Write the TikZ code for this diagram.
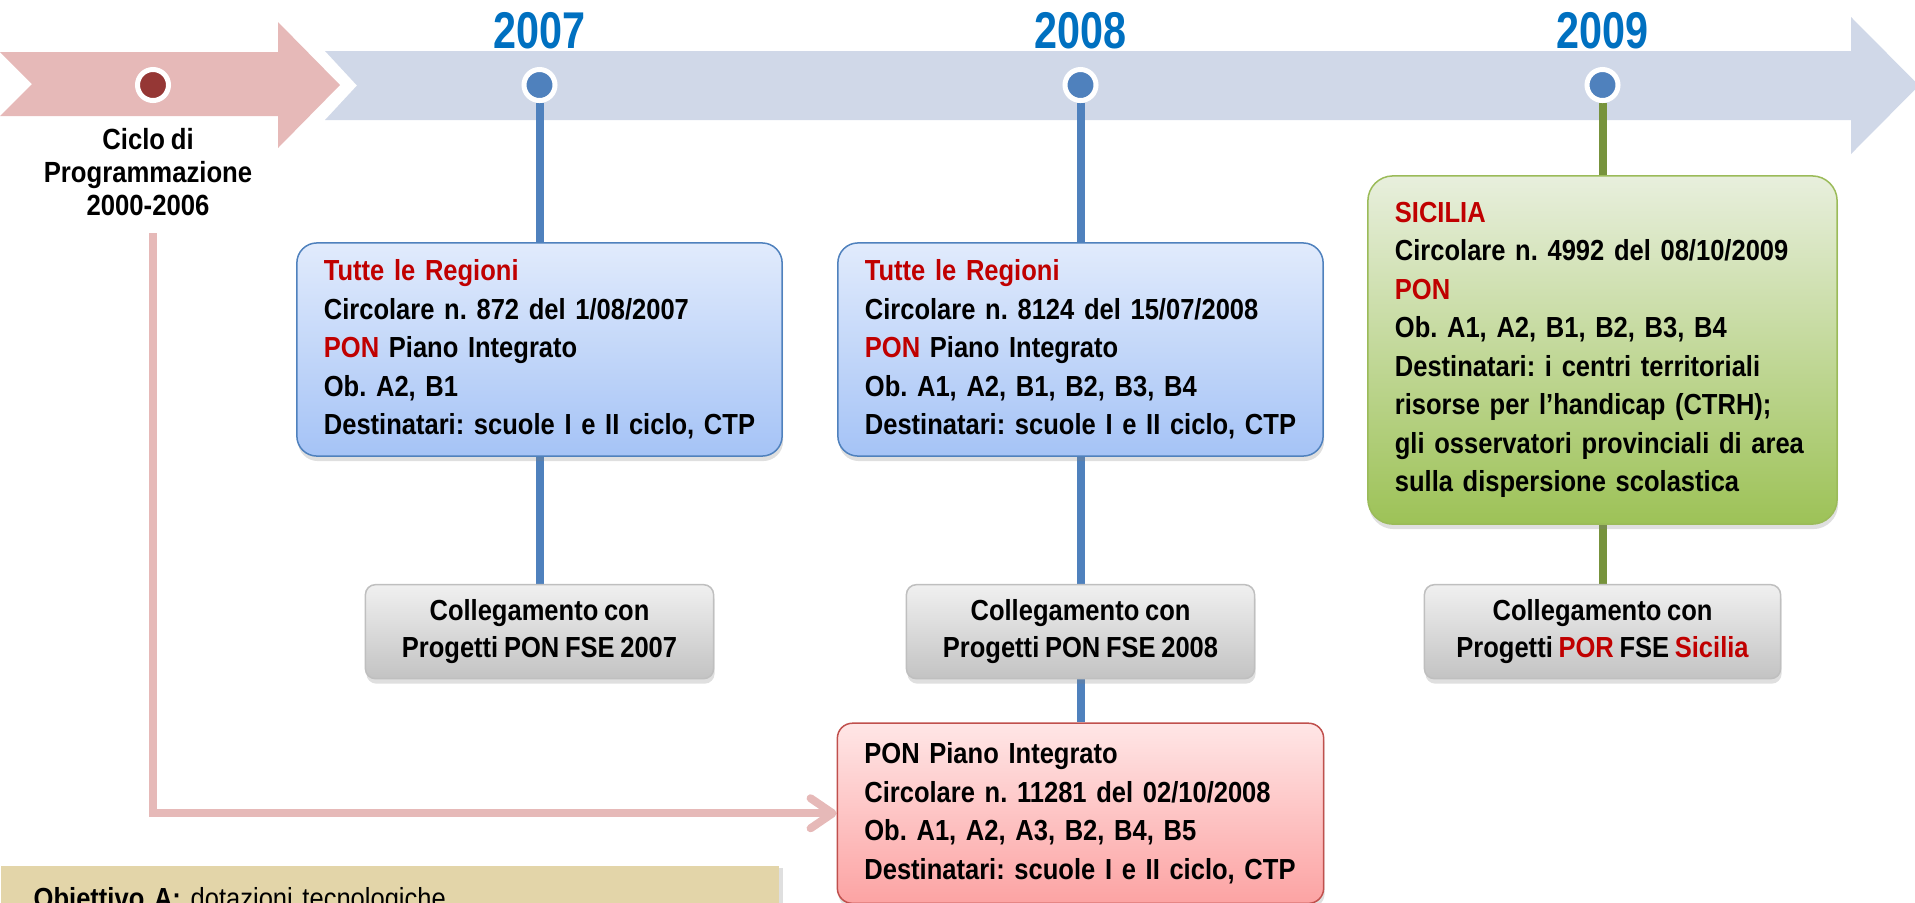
\documentclass[tikz,border=0pt]{standalone}
\usepackage{fontspec}
\setmainfont[FakeStretch=0.88, WordSpace=0.8]{Liberation Sans}
\newfontfamily\yearfont[FakeStretch=0.8]{Liberation Sans}
\usetikzlibrary{positioning,shadows,backgrounds,arrows.meta}

\definecolor{bandpink}{HTML}{E6B9B8}
\definecolor{bandblue}{HTML}{D0D8E8}
\definecolor{dotblue}{HTML}{4F81BD}
\definecolor{dotred}{HTML}{953735}
\definecolor{yearblue}{HTML}{0070C0}
\definecolor{textred}{HTML}{C00000}
\definecolor{stemgreen}{HTML}{77933C}
\definecolor{blueboxtop}{HTML}{E1EBFC}
\definecolor{blueboxbot}{HTML}{A5C3F6}
\definecolor{greenboxtop}{HTML}{E8EFDD}
\definecolor{greenboxbot}{HTML}{9DC257}
\definecolor{greenline}{HTML}{9BBB59}
\definecolor{pinkboxtop}{HTML}{FFE6E6}
\definecolor{pinkboxbot}{HTML}{FCA3A3}
\definecolor{pinkline}{HTML}{C0504D}
\definecolor{linkboxtop}{HTML}{F0F0F0}
\definecolor{linkboxbot}{HTML}{C3C3C3}
\definecolor{linkline}{HTML}{BFBFBF}
\definecolor{legendfill}{HTML}{E3D5A9}

\begin{document}
\frenchspacing
\begin{tikzpicture}[x=0.01cm,y=-0.01cm]
  \tikzset{
    dotstyle/.style={circle, minimum size=0.31cm, inner sep=0pt, fill=#1, draw=white, line width=0.05cm},
    yearstyle/.style={inner sep=0pt, text=yearblue, font=\yearfont\bfseries\fontsize{14.7}{16}\selectfont},
    boxshadow/.style={drop shadow={opacity=0.25, shadow xshift=0.01cm, shadow yshift=-0.05cm}},
    infobox/.style={font=\bfseries\fontsize{8.25}{10.95}\selectfont, align=left, inner xsep=0.27cm,
      line width=0.015cm, boxshadow},
    bluebox/.style={infobox, text width=4.31cm, minimum height=2.13cm, rounded corners=0.2cm,
      draw=dotblue, top color=blueboxtop, bottom color=blueboxbot},
    greenbox/.style={infobox, text width=4.15cm, minimum height=3.48cm, rounded corners=0.25cm,
      draw=greenline, top color=greenboxtop, bottom color=greenboxbot},
    pinkbox/.style={infobox, text width=4.32cm, minimum height=1.8cm, rounded corners=0.15cm,
      draw=pinkline, top color=pinkboxtop, bottom color=pinkboxbot},
    linkbox/.style={font=\bfseries\fontsize{8.25}{10.5}\selectfont, align=center, minimum width=3.48cm,
      minimum height=0.94cm, rounded corners=0.1cm, line width=0.015cm, draw=linkline,
      top color=linkboxtop, bottom color=linkboxbot, boxshadow},
    stemstyle/.style={line width=0.08cm},
    cyclelink/.style={line width=0.08cm, draw=bandpink, -{Straight Barb[length=0.22cm, width=0.3cm, round]}}
  }
  \useasboundingbox (0,0) rectangle (1915,902);

  % timeline dots and years
  \node (dot00) [dotstyle=dotred] at (153,85) {};
  \node (dot07) [dotstyle=dotblue] at (539.5,85) {};
  \node (dot08) [dotstyle=dotblue] at (1080.5,85) {};
  \node (dot09) [dotstyle=dotblue] at (1602.5,85) {};
  \node (year07) [yearstyle, above=0.17cm of dot07] {2007};
  \node (year08) [yearstyle, above=0.17cm of dot08] {2008};
  \node (year09) [yearstyle, above=0.17cm of dot09] {2009};
  \node (cyclelabel) [align=center, inner sep=0pt, font=\bfseries\fontsize{8.3}{9.5}\selectfont]
    at (148,172) {Ciclo di\\Programmazione\\2000-2006};

  % circolari
  \node (box07) [bluebox] at (539.5,349.5) {{\color{textred}Tutte le Regioni}\\
    Circolare n. 872 del 1/08/2007\\
    {\color{textred}PON} Piano Integrato\\
    Ob. A2, B1\\
    Destinatari: scuole I e II ciclo, CTP};
  \node (box08) [bluebox] at (1080.5,349.5) {{\color{textred}Tutte le Regioni}\\
    Circolare n. 8124 del 15/07/2008\\
    {\color{textred}PON} Piano Integrato\\
    Ob. A1, A2, B1, B2, B3, B4\\
    Destinatari: scuole I e II ciclo, CTP};
  \node (box09) [greenbox] at (1602.5,350) {{\color{textred}SICILIA}\\
    Circolare n. 4992 del 08/10/2009\\
    {\color{textred}PON}\\
    Ob. A1, A2, B1, B2, B3, B4\\
    Destinatari: i centri territoriali\\
    risorse per l’handicap (CTRH);\\
    gli osservatori provinciali di area\\
    sulla dispersione scolastica};

  \node (link07) [linkbox, below=1.27cm of box07] {Collegamento con\\Progetti PON FSE 2007};
  \node (link08) [linkbox, below=1.27cm of box08] {Collegamento con\\Progetti PON FSE 2008};
  \node (link09) [linkbox, minimum width=3.56cm, below=0.59cm of box09]
    {Collegamento con\\Progetti {\color{textred}POR} FSE {\color{textred}Sicilia}};
  \node (pon08) [pinkbox, below=0.43cm of link08] {PON Piano Integrato\\
    Circolare n. 11281 del 02/10/2008\\
    Ob. A1, A2, A3, B2, B4, B5\\
    Destinatari: scuole I e II ciclo, CTP};

  \node (legend) [anchor=north west, fill=legendfill, text width=7.12cm, align=left,
    inner xsep=0.33cm, inner ysep=0.22cm, font=\fontsize{8.25}{10.95}\selectfont,
    drop shadow={opacity=0.25, shadow xshift=0.04cm, shadow yshift=-0.02cm}]
    at (0,865) {\textbf{Obiettivo A:} dotazioni tecnologiche};

  \coordinate (cyclestart) at (153,233);

  \begin{scope}[on background layer]
    \fill[bandpink] (0,52) -- (278,52) -- (278,22) -- (340,85) -- (278,148) -- (278,116)
      -- (0,116) -- (32,84) -- cycle;
    \fill[bandblue] (325,51) -- (1851,51) -- (1851,17) -- (1919,85.5) -- (1851,154)
      -- (1851,120) -- (325,120) -- (357,85.5) -- cycle;
    \draw[stemstyle, dotblue] (dot07) -- (link07);
    \draw[stemstyle, dotblue] (dot08) -- (pon08);
    \draw[stemstyle, stemgreen] (dot09) -- (box09);
    \draw[stemstyle, stemgreen] (box09) -- (link09);
    \draw[cyclelink] (cyclestart) |- (pon08);
  \end{scope}
\end{tikzpicture}
\end{document}
